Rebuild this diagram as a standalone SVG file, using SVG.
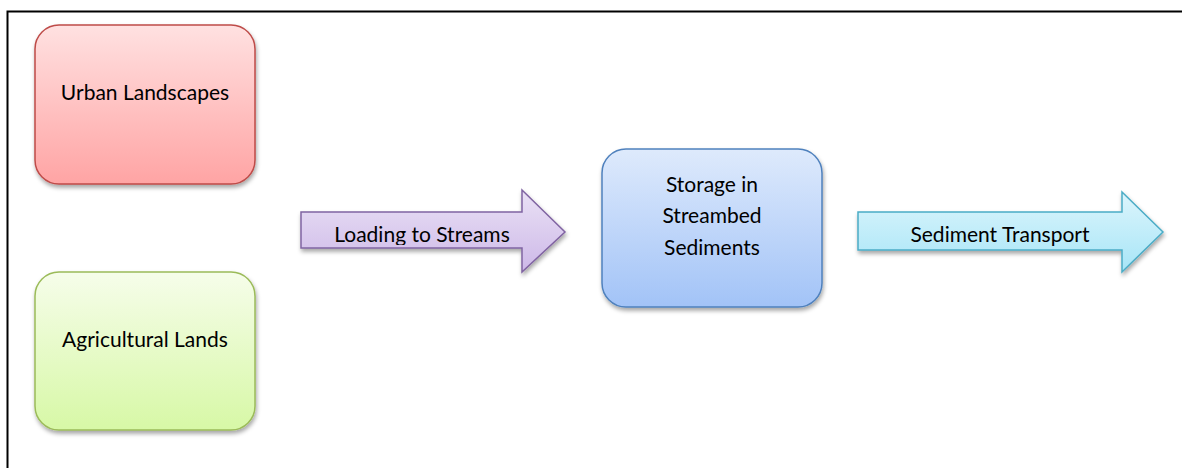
<svg xmlns="http://www.w3.org/2000/svg" width="1182" height="468" viewBox="0 0 1182 468">
<defs>
<linearGradient id="gRed" x1="0" y1="0" x2="0" y2="1"><stop offset="0" stop-color="#FFE1E1"/><stop offset="1" stop-color="#FFA4A4"/></linearGradient>
<linearGradient id="gGreen" x1="0" y1="0" x2="0" y2="1"><stop offset="0" stop-color="#F6FDEA"/><stop offset="1" stop-color="#D7F8A6"/></linearGradient>
<linearGradient id="gBlue" x1="0" y1="0" x2="0" y2="1"><stop offset="0" stop-color="#DEEAFC"/><stop offset="1" stop-color="#A2C3F7"/></linearGradient>
<linearGradient id="gPurple" x1="0" y1="0" x2="0" y2="1"><stop offset="0" stop-color="#EAE1F5"/><stop offset="1" stop-color="#CDB8E8"/></linearGradient>
<linearGradient id="gCyan" x1="0" y1="0" x2="0" y2="1"><stop offset="0" stop-color="#DCF5FC"/><stop offset="1" stop-color="#A7E5F7"/></linearGradient>
<filter id="shadow" x="-10%" y="-10%" width="120%" height="130%"><feDropShadow dx="1" dy="3" stdDeviation="2" flood-color="#000" flood-opacity="0.35"/></filter>
<clipPath id="clipLoad"><rect x="301" y="212" width="230" height="33"/></clipPath>
</defs>
<style>
.box{stroke-width:1.5;filter:url(#shadow)}
.lbl{font-family:Lato,"Liberation Sans",sans-serif;font-size:21px;fill:#000;text-anchor:middle}
</style>
<rect x="7.5" y="11.5" width="1180" height="470" fill="#fff" stroke="#000" stroke-width="2"/>
<g id="urban">
<rect class="box" x="35" y="25" width="220" height="159" rx="24" fill="url(#gRed)" stroke="#BE4B48"/>
<text class="lbl" x="145" y="100">Urban Landscapes</text>
</g>
<g id="agricultural">
<rect class="box" x="35" y="272" width="220" height="158" rx="24" fill="url(#gGreen)" stroke="#9BBB59"/>
<text class="lbl" x="145" y="347">Agricultural Lands</text>
</g>
<g id="storage">
<rect class="box" x="602" y="149" width="220" height="158" rx="24" fill="url(#gBlue)" stroke="#4F81BD"/>
<text class="lbl" x="712" y="192">Storage in</text>
<text class="lbl" x="712" y="223">Streambed</text>
<text class="lbl" x="712" y="255">Sediments</text>
</g>
<g id="connectors">
<g id="loading">
<path class="box" d="M301,212 H522 V190 L565,232 L522,272 V248 H301 Z" fill="url(#gPurple)" stroke="#8064A2"/>
<text class="lbl" x="422" y="242" clip-path="url(#clipLoad)">Loading to Streams</text>
</g>
<g id="transport">
<path class="box" d="M858,212 H1122 V192 L1163,232 L1122,272 V250 H858 Z" fill="url(#gCyan)" stroke="#4BACC6"/>
<text class="lbl" x="1000" y="242">Sediment Transport</text>
</g>
</g>
</svg>
